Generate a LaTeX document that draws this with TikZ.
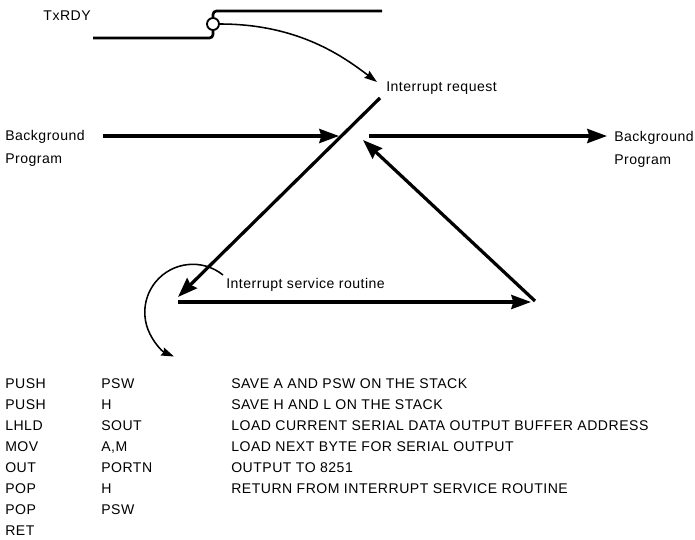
\documentclass[tikz,border=0pt]{standalone}
\usepackage{fontspec}
\setmainfont{Liberation Sans}[LetterSpace=3.5]
\usetikzlibrary{arrows.meta}
\begin{document}
\begin{tikzpicture}[x=0.025cm, y=-0.025cm,
	txt/.style={inner sep=0pt, font=\fontsize{10}{16.5}\selectfont},
	signal/.style={line width=1.9pt, rounded corners=2.5pt},
	bubble/.style={circle, draw, fill=white, line width=1.3pt, minimum size=0.3cm, inner sep=0pt},
	flow/.style={line width=2.3pt, -{Stealth[length=14pt, width=10pt, inset=1.5pt]}},
	curvearrow/.style={line width=1.1pt, -{Stealth[length=9pt, width=6pt, inset=1pt]}}]
	\useasboundingbox (0,0) rectangle (695,539);
	% Paths, nodes and wires:
	\draw[signal] (93,38) -- (213,38) -- (213,11) -- (382,11);
	\node[bubble] (bubble) at (213,24){};
	\node[txt, anchor=base east] (txrdy) at (91,20){TxRDY};
	\coordinate (reqtip) at (377,82);
	\draw[curvearrow] (bubble.east) .. controls (300,24) and (345,58) .. (reqtip);
	\node[txt, anchor=base west] (req) at (386,91){Interrupt request};
	\node[txt, anchor=north west, align=left] (bgin) at (5,130){Background\\Program};
	\node[txt, anchor=north west, align=left] (bgout) at (614,131){Background\\Program};
	\coordinate (inA) at (103,136);
	\coordinate (inB) at (339,136);
	\coordinate (outA) at (369,136);
	\coordinate (outB) at (607,136);
	\coordinate (reqtop) at (380,98);
	\coordinate (isrtip) at (178,297);
	\coordinate (isrA) at (178,302);
	\coordinate (isrB) at (531,302);
	\coordinate (retA) at (535,301);
	\coordinate (retB) at (363,140);
	\draw[flow] (inA) -- (inB);
	\draw[flow] (reqtop) -- (isrtip);
	\draw[flow] (isrA) -- (isrB);
	\draw[flow] (retA) -- (retB);
	\draw[flow] (outA) -- (outB);
	\node[txt, anchor=base west] (isr) at (226,288){Interrupt service routine};
	\coordinate (isrloop) at (223,275);
	\draw[curvearrow] (isrloop) arc[start angle=-51, end angle=-247, radius=48];
	% listing
	\node[txt, anchor=base west] (op1) at (5,388){PUSH};
	\node[txt, anchor=base west] (arg1) at (101,388){PSW};
	\node[txt, anchor=base west] (note1) at (231,388){SAVE A AND PSW ON THE STACK};
	\node[txt, anchor=base west] (op2) at (5,409){PUSH};
	\node[txt, anchor=base west] (arg2) at (101,409){H};
	\node[txt, anchor=base west] (note2) at (231,409){SAVE H AND L ON THE STACK};
	\node[txt, anchor=base west] (op3) at (5,430){LHLD};
	\node[txt, anchor=base west] (arg3) at (101,430){SOUT};
	\node[txt, anchor=base west] (note3) at (231,430){LOAD CURRENT SERIAL DATA OUTPUT BUFFER ADDRESS};
	\node[txt, anchor=base west] (op4) at (5,451){MOV};
	\node[txt, anchor=base west] (arg4) at (101,451){A,M};
	\node[txt, anchor=base west] (note4) at (231,451){LOAD NEXT BYTE FOR SERIAL OUTPUT};
	\node[txt, anchor=base west] (op5) at (5,472){OUT};
	\node[txt, anchor=base west] (arg5) at (101,472){PORTN};
	\node[txt, anchor=base west] (note5) at (231,472){OUTPUT TO 8251};
	\node[txt, anchor=base west] (op6) at (5,493){POP};
	\node[txt, anchor=base west] (arg6) at (101,493){H};
	\node[txt, anchor=base west] (note6) at (231,493){RETURN FROM INTERRUPT SERVICE ROUTINE};
	\node[txt, anchor=base west] (op7) at (5,514){POP};
	\node[txt, anchor=base west] (arg7) at (101,514){PSW};
	\node[txt, anchor=base west] (op8) at (5,535){RET};
\end{tikzpicture}
\end{document}
